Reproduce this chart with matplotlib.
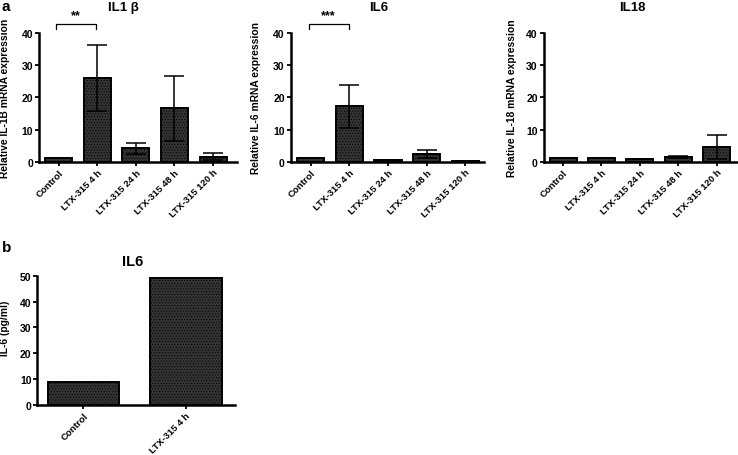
import matplotlib
matplotlib.use("Agg")
import matplotlib.pyplot as plt
import numpy as np

plt.rcParams['font.family'] = ['Liberation Sans', 'DejaVu Sans']
plt.rcParams['font.weight'] = 'bold'
plt.rcParams['hatch.color'] = '#555555'
plt.rcParams['hatch.linewidth'] = 0.4

categories = ["Control", "LTX-315 4 h", "LTX-315 24 h", "LTX-315 48 h", "LTX-315 120 h"]

il1b_mean = [1.0, 26.0, 4.2, 16.6, 1.6]
il1b_err = [0.0, 10.3, 1.7, 10.1, 1.2]

il6_mean = [1.0, 17.2, 0.4, 2.4, 0.2]
il6_err = [0.0, 6.8, 0.0, 1.1, 0.0]

il18_mean = [1.0, 1.2, 0.7, 1.5, 4.5]
il18_err = [0.0, 0.0, 0.0, 0.3, 3.7]

b_categories = ["Control", "LTX-315 4 h"]
b_values = [9.0, 49.0]

W, H = 738, 456
fig = plt.figure(figsize=(W / 100, H / 100), dpi=100)

BAR_FC = '#333333'
XT_FS = 6.8
YT_FS = 7.5
YL_FS = 7.4
TI_FS = 9.5


def px_axes(left, right, top, bottom):
    return fig.add_axes([left / W, 1 - bottom / H, (right - left) / W, (bottom - top) / H])


def style(ax):
    for s in ['top', 'right']:
        ax.spines[s].set_visible(False)
    for s in ['left', 'bottom']:
        ax.spines[s].set_linewidth(1.8)
    ax.tick_params(axis='both', direction='out', length=3, width=1.3, pad=1.2)
    ax.tick_params(axis='y', labelsize=YT_FS)
    for lab in ax.get_yticklabels():
        lab.set_fontweight('bold')


def panel(ax, means, errs, xlim, ylabel, ylab_x):
    x = np.arange(len(categories))
    ax.bar(x, means, width=0.7, color=BAR_FC, edgecolor='black', linewidth=1.4,
           hatch='......', zorder=2)
    ax.errorbar(x, means, yerr=[np.zeros(len(errs)), errs], fmt='none', ecolor='black',
                elinewidth=1.1, capsize=7, capthick=1.1, zorder=3)
    ax.errorbar(x, means, yerr=[errs, np.zeros(len(errs))], fmt='none', ecolor='black',
                elinewidth=1.1, capsize=7, capthick=1.1, zorder=3)
    ax.set_xlim(*xlim)
    ax.set_ylim(0, 40)
    ax.set_yticks([0, 10, 20, 30, 40])
    ax.set_xticks(x)
    ax.set_xticklabels(categories, rotation=45, ha='right', rotation_mode='anchor',
                       fontsize=XT_FS, fontweight='bold')
    ax.set_ylabel(ylabel, fontsize=YL_FS, fontweight='bold')
    ax.yaxis.set_label_coords(ylab_x, 0.5)
    style(ax)


def bracket(ax, x0, x1, y, text):
    ax.plot([x0, x0, x1, x1], [y - 1.8, y, y, y - 1.8], color='black', lw=0.9,
            clip_on=False)
    ax.text((x0 + x1) / 2, y + 0.6, text, ha='center', va='bottom', fontsize=9,
            fontweight='bold', clip_on=False)


# Panel a
ax1 = px_axes(39, 237, 34.2, 162.7)
panel(ax1, il1b_mean, il1b_err, (-0.505, 4.62), "Relative IL-1B mRNA expression", -0.146)
bracket(ax1, -0.06, 0.97, 43.0, "**")

ax2 = px_axes(290.5, 484, 34.2, 162.7)
panel(ax2, il6_mean, il6_err, (-0.52, 4.48), "Relative IL-6 mRNA expression", -0.15)
bracket(ax2, -0.05, 0.98, 43.0, "***")

ax3 = px_axes(543.5, 736.7, 34.2, 162.7)
panel(ax3, il18_mean, il18_err, (-0.51, 4.52), "Relative IL-18 mRNA expression", -0.137)

fig.text(123 / W, 1 - 8 / H, "IL1 \u03b2", ha='center', va='center', fontsize=TI_FS, fontweight='bold')
fig.text(379 / W, 1 - 8 / H, "IL6", ha='center', va='center', fontsize=TI_FS, fontweight='bold')
fig.text(632 / W, 1 - 8 / H, "IL18", ha='center', va='center', fontsize=TI_FS, fontweight='bold')
fig.text(2 / W, 1 - 7 / H, "a", ha='left', va='center', fontsize=11, fontweight='bold')

# Panel b
axb = px_axes(37.3, 235, 276.7, 406)
xb = np.arange(len(b_categories))
axb.bar(xb, b_values, width=0.7, color=BAR_FC, edgecolor='black', linewidth=1.4,
        hatch='......', zorder=2)
axb.set_xlim(-0.45, 1.48)
axb.set_ylim(0, 50)
axb.set_yticks([0, 10, 20, 30, 40, 50])
axb.set_xticks(xb)
axb.set_xticklabels(b_categories, rotation=45, ha='right', rotation_mode='anchor',
                    fontsize=XT_FS, fontweight='bold')
axb.set_ylabel("IL-6 (pg/ml)", fontsize=YL_FS, fontweight='bold')
axb.yaxis.set_label_coords(-0.138, 0.6)
style(axb)
fig.text(133 / W, 1 - 262 / H, "IL6", ha='center', va='center', fontsize=TI_FS + 1, fontweight='bold')
fig.text(2 / W, 1 - 248 / H, "b", ha='left', va='center', fontsize=11, fontweight='bold')

fig.savefig("out.png", dpi=100)
